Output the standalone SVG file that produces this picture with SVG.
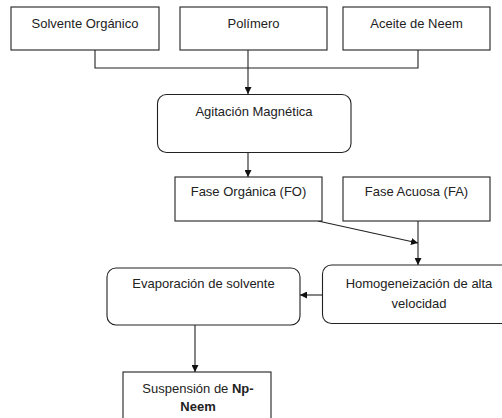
<svg xmlns="http://www.w3.org/2000/svg" width="502" height="418" viewBox="0 0 502 418">
<defs>
<style>
.box{fill:#fff;stroke:#222;stroke-width:1.1}
.t{font-family:"Liberation Sans",Arial,sans-serif;font-size:13px;fill:#222;text-anchor:middle}
.c{fill:none;stroke:#222;stroke-width:1.1}
</style>
<marker id="ah" viewBox="0 0 10 10" refX="10" refY="5" markerWidth="7" markerHeight="7" markerUnits="userSpaceOnUse" orient="auto">
<path d="M0,0 L10,5 L0,10 z" fill="#111"/>
</marker>
</defs>
<rect width="502" height="418" fill="#fff"/>
<g id="connectors">
<polyline class="c" points="95,50 95,68 418,68 418,50"/>
<line class="c" x1="248" y1="50" x2="248" y2="94" marker-end="url(#ah)"/>
<line class="c" x1="248" y1="152" x2="248" y2="177" marker-end="url(#ah)"/>
<line class="c" x1="318" y1="221" x2="418" y2="243" marker-end="url(#ah)"/>
<line class="c" x1="418" y1="221" x2="418" y2="265" marker-end="url(#ah)"/>
<line class="c" x1="323" y1="295" x2="300" y2="295" marker-end="url(#ah)"/>
<line class="c" x1="195" y1="325" x2="195" y2="372" marker-end="url(#ah)"/>
</g>
<g id="n1"><rect class="box" x="11" y="7" width="148" height="43"/><text class="t" x="85" y="28">Solvente Orgánico</text></g>
<g id="n2"><rect class="box" x="180" y="7" width="147" height="43"/><text class="t" x="253.5" y="28">Polímero</text></g>
<g id="n3"><rect class="box" x="343" y="7" width="147" height="43"/><text class="t" x="416.5" y="28">Aceite de Neem</text></g>
<g id="n4"><rect class="box" x="157.5" y="94.5" width="193.5" height="58" rx="9"/><text class="t" x="254" y="116">Agitación Magnética</text></g>
<g id="n5"><rect class="box" x="175" y="177" width="147" height="44"/><text class="t" x="248.5" y="196">Fase Orgánica (FO)</text></g>
<g id="n6"><rect class="box" x="343" y="177" width="147" height="44"/><text class="t" x="416.5" y="196">Fase Acuosa (FA)</text></g>
<g id="n7"><rect class="box" x="322.5" y="265" width="193" height="58.5" rx="9"/><text class="t" x="419" y="288">Homogeneización de alta</text><text class="t" x="419" y="307.5">velocidad</text></g>
<g id="n8"><rect class="box" x="107" y="268" width="193" height="57" rx="9"/><text class="t" x="203.5" y="288">Evaporación de solvente</text></g>
<g id="n9"><rect class="box" x="123" y="372" width="148" height="50"/><text class="t" x="198" y="392.5">Suspensión de <tspan font-weight="bold">Np-</tspan></text><text class="t" x="198" y="411" font-weight="bold">Neem</text></g>
</svg>
